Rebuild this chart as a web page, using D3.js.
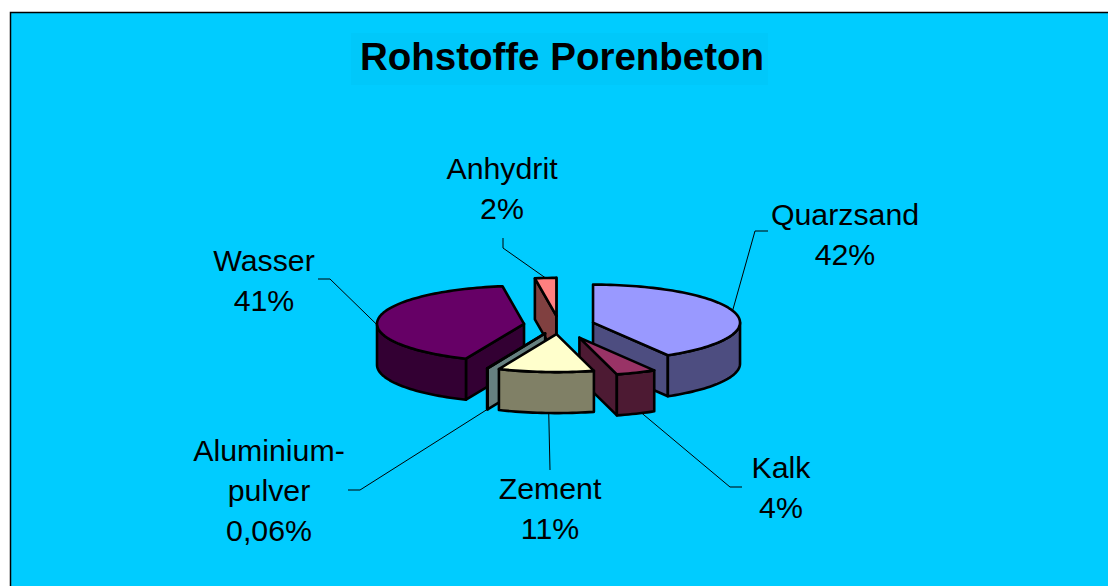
<!DOCTYPE html>
<html><head><meta charset="utf-8">
<script src="https://cdn.jsdelivr.net/npm/d3@7"></script>
<style>html,body{margin:0;padding:0;background:#fff;overflow:hidden}svg{display:block}</style>
</head><body><svg id="c" width="1108" height="586"></svg>
<script>
// Data
const categories = ["Quarzsand","Kalk","Zement","Aluminiumpulver","Wasser","Anhydrit"];
const shares = [41.5,4.4,10.5,0.06,41.2,2.34];
const shareLabels = ["42%","4%","11%","0,06%","41%","2%"];
const labelLines = [["Quarzsand"],["Kalk"],["Zement"],["Aluminium-","pulver"],["Wasser"],["Anhydrit"]];
const topColors = ["#9999FF","#993366","#FFFFCC","#CCFFFF","#660066","#FF8080"];
const sideColors = ["#4D4D80","#4D1A33","#808066","#668080","#330033","#804040"];
const drawOrder = [5,4,3,0,1,2];
// Layout
const W=1108,H=586, cx=559, cy=325, rx=147, ry=38, depth=41;
const explode=[0.24,0.36,0.24,0.24,0.24,0.24];
const labelPos = [[845,225],[781,478],[550,499],[269,461],[264,271],[502,179]];
const leaders = [
 [[0.48,0],[755,231],[768,231]],
 [[0.35,1],[730,487],[742,487]],
 [[0.47,1],[550,470]],
 [[0.5,1],[360,490],[348,490]],
 [[0.44,0],[330,279],[318,279]],
 [[0.5,0],[503,248],[503,238]]
];
const svg=d3.select("#c");
svg.append("rect").attr("x",10.5).attr("y",12.5).attr("width",W).attr("height",H).attr("fill","#00CCFF").attr("stroke","#000").attr("stroke-width",1.5);
svg.append("rect").attr("x",351).attr("y",33).attr("width",417).attr("height",52).attr("fill","#00C8FA");
svg.append("text").attr("x",562).attr("y",70).attr("text-anchor","middle").attr("font-family","Liberation Sans").attr("font-weight","bold").attr("font-size",38.5).text("Rohstoffe Porenbeton");

const arcs=d3.pie().sort(null).startAngle(0).endAngle(2*Math.PI)(shares);
const proj=(a,o,z=0)=>[o[0]+rx*Math.sin(a), o[1]-ry*Math.cos(a)+z];
const line=d3.line();
const sample=(a0,a1,o,z=0)=>{const n=Math.max(1,Math.ceil(Math.abs(a1-a0)/0.03));return d3.range(n+1).map(i=>proj(a0+(a1-a0)*i/n,o,z));};
const g=svg.append("g").attr("stroke","#000").attr("stroke-width",2.6).attr("stroke-linejoin","round");
const origin=(d,i)=>{const m=(d.startAngle+d.endAngle)/2;return [cx+explode[i]*rx*Math.sin(m),cy-explode[i]*ry*Math.cos(m)];};
const poly=(pts,fill)=>g.append("path").attr("d",line(pts)+"Z").attr("fill",fill);
drawOrder.forEach(i=>{
  const d=arcs[i],o=origin(d,i),t0=d.startAngle,t1=d.endAngle;
  if(Math.sin(t0)<0){const p=proj(t0,o);poly([o,p,[p[0],p[1]+depth],[o[0],o[1]+depth]],sideColors[i]);}
  if(Math.sin(t1)>0){const p=proj(t1,o);poly([o,p,[p[0],p[1]+depth],[o[0],o[1]+depth]],sideColors[i]);}
  const a=Math.max(t0,Math.PI/2),b=Math.min(t1,3*Math.PI/2);
  if(b>a){poly(sample(a,b,o).concat(sample(b,a,o,depth)),sideColors[i]);}
  poly([o].concat(sample(t0,t1,o)),topColors[i]);
});
// Leader lines
const lg=svg.insert("g","g").attr("fill","none").attr("stroke","#000").attr("stroke-width",1);
leaders.forEach((l,i)=>{
  const d=arcs[i],o=origin(d,i),[f,z]=l[0];
  const a=d.startAngle+(d.endAngle-d.startAngle)*f;
  const s=proj(a,o,z*depth);
  lg.append("path").attr("d",line([s].concat(l.slice(1))));
});
// Labels
const tg=svg.append("g").attr("font-family","Liberation Sans").attr("font-size",30.3).attr("text-anchor","middle").attr("fill","#000");
categories.forEach((c,i)=>{
  const [x,y]=labelPos[i];
  labelLines[i].concat([shareLabels[i]]).forEach((t,k)=>tg.append("text").attr("x",x).attr("y",y+k*40).text(t));
});
</script></body></html>
